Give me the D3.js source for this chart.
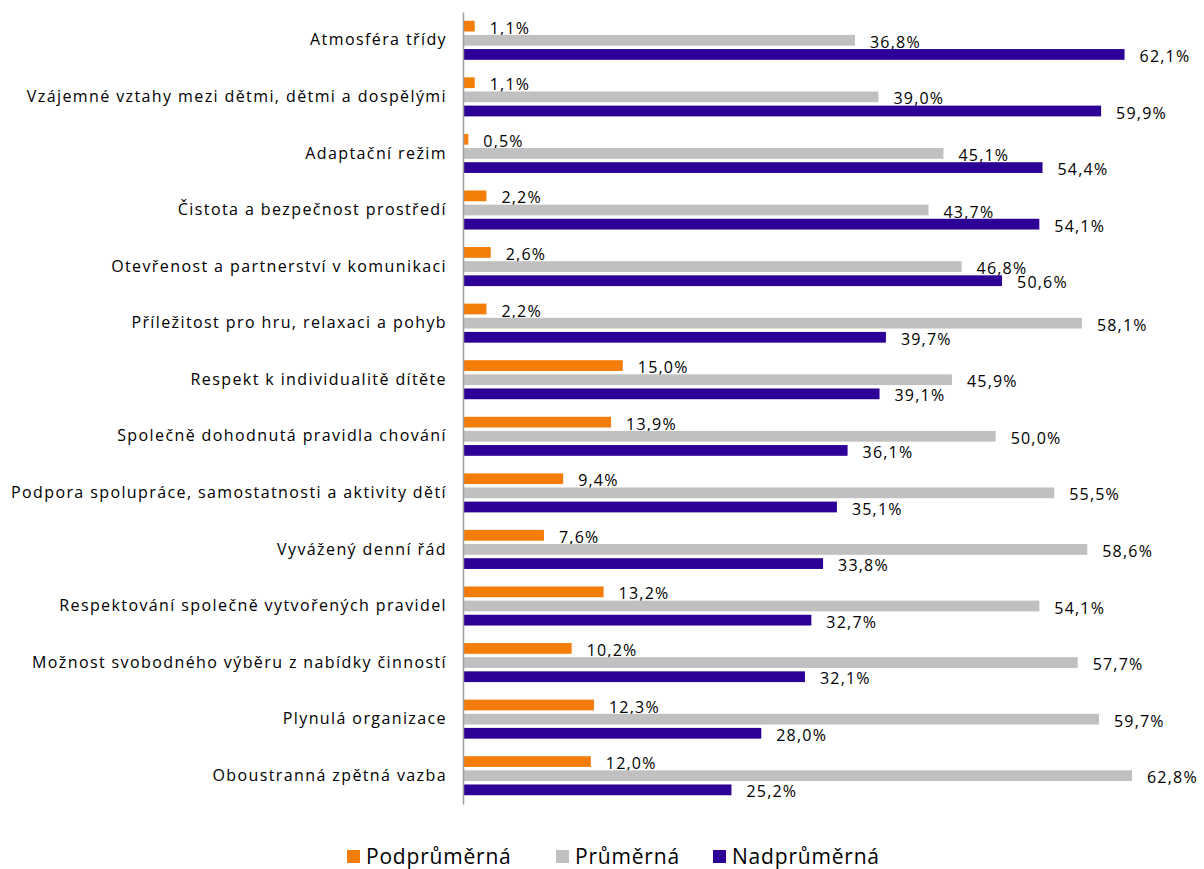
<!DOCTYPE html>
<html>
<head>
<meta charset="utf-8">
<script src="https://cdn.jsdelivr.net/npm/d3@7"></script>
<style>
  body { margin: 0; background: #fff; }
  text { font-family: 'Open Sans', sans-serif; fill: #000; }
</style>
</head>
<body>
<div id="chart"></div>
<script>
const categories = [
  'Atmosféra třídy',
  'Vzájemné vztahy mezi dětmi, dětmi a dospělými',
  'Adaptační režim',
  'Čistota a bezpečnost prostředí',
  'Otevřenost a partnerství v komunikaci',
  'Příležitost pro hru, relaxaci a pohyb',
  'Respekt k individualitě dítěte',
  'Společně dohodnutá pravidla chování',
  'Podpora spolupráce, samostatnosti a aktivity dětí',
  'Vyvážený denní řád',
  'Respektování společně vytvořených pravidel',
  'Možnost svobodného výběru z nabídky činností',
  'Plynulá organizace',
  'Oboustranná zpětná vazba'
]
const seriesNames = ['Podprůměrná', 'Průměrná', 'Nadprůměrná']
const podprumerna = [1.1, 1.1, 0.5, 2.2, 2.6, 2.2, 15.0, 13.9, 9.4, 7.6, 13.2, 10.2, 12.3, 12.0]
const prumerna = [36.8, 39.0, 45.1, 43.7, 46.8, 58.1, 45.9, 50.0, 55.5, 58.6, 54.1, 57.7, 59.7, 62.8]
const nadprumerna = [62.1, 59.9, 54.4, 54.1, 50.6, 39.7, 39.1, 36.1, 35.1, 33.8, 32.7, 32.1, 28.0, 25.2]
const colours = ['#f47d0a', '#c0c0c0', '#2c0096']

const width = 1204
const height = 869
const values = [podprumerna, prumerna, nadprumerna]
const fmt = v => v.toFixed(1).replace('.', ',') + '%'

const svg = d3.select('#chart')
  .append('svg')
  .attr('width', width)
  .attr('height', height)

const x = d3.scaleLinear()
  .domain([0, 62.8])
  .range([463, 1132])

const y = d3.scaleBand()
  .domain(categories)
  .range([12, 804])
  .paddingInner(0.31)
  .paddingOuter(0.155)

const ySeries = d3.scaleBand()
  .domain(seriesNames)
  .range([0, y.bandwidth()])
  .paddingInner(0.24)

const groups = svg.append('g')
  .selectAll('g')
  .data(categories)
  .join('g')
  .attr('transform', d => `translate(0,${y(d)})`)

seriesNames.forEach((s, si) => {
  groups.append('rect')
    .attr('x', x(0))
    .attr('y', ySeries(s))
    .attr('width', (d, i) => x(values[si][i]) - x(0))
    .attr('height', ySeries.bandwidth())
    .attr('fill', colours[si])

  groups.append('text')
    .attr('x', (d, i) => x(values[si][i]) + 15)
    .attr('y', ySeries(s) + ySeries.bandwidth() / 2 + 2)
    .attr('dy', '0.35em')
    .style('font-size', '16px')
    .style('letter-spacing', '1.2px')
    .text((d, i) => fmt(values[si][i]))
})

// category axis
const yAxis = d3.axisLeft(y).tickSize(0).tickPadding(16)
const axisG = svg.append('g')
  .attr('transform', `translate(${x(0)},0)`)
  .call(yAxis)
axisG.select('.domain').attr('stroke', '#a0a0a0').attr('stroke-width', 1.5)
axisG.selectAll('.tick text')
  .style('font-family', "'Open Sans', sans-serif")
  .style('font-size', '16px')
  .style('letter-spacing', '1.4px')
  .attr('fill', '#000')

// legend
const legendX = [347, 556, 713]
const legend = svg.append('g')
  .selectAll('g')
  .data(seriesNames)
  .join('g')
  .attr('transform', (d, i) => `translate(${legendX[i]},850)`)
legend.append('rect')
  .attr('width', 13)
  .attr('height', 13)
  .attr('fill', (d, i) => colours[i])
legend.append('text')
  .attr('x', 19)
  .attr('y', 7)
  .attr('dy', '0.35em')
  .style('font-size', '21px')
  .style('letter-spacing', '0.8px')
  .text(d => d)
</script>
</body>
</html>
